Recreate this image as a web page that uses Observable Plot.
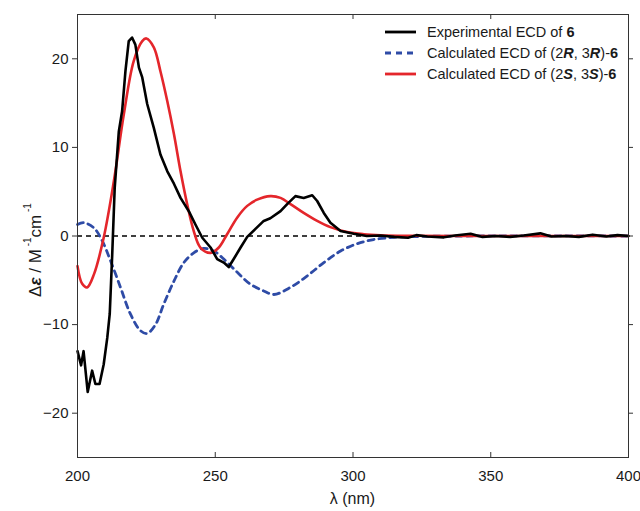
<!DOCTYPE html>
<html><head><meta charset="utf-8">
<script src="https://cdn.jsdelivr.net/npm/d3@7"></script>
<script src="https://cdn.jsdelivr.net/npm/@observablehq/plot@0.6"></script>
<style>body{margin:0;background:#fff;font-family:"Liberation Sans",Arial,sans-serif}</style>
</head><body><div id="chart"></div>
<script>
// Experimental ECD of 6
const expWl  = [200,201.3,202.2,203.7,205.3,206.5,208,209.5,210.8,211.7,212.6,213.5,215,216.2,217.4,218.6,219.8,221,222.3,223.5,225.3,227.7,230.1,232.6,235,237.4,240.4,242.8,245.3,248.3,250.7,253.1,254.9,256.7,259.2,261.6,264.6,267.6,270,273.7,276.1,279.1,282.1,285.2,287,289.4,291.8,295.5,300.3,305,310,315,320,323,327,333,337,342.7,347,352,357,362,368,372,377,382,387,392,396,400];
const expVal = [-13.0,-14.6,-13.0,-17.6,-15.2,-16.7,-16.7,-14.5,-11.5,-8.8,-2.1,5.4,11.8,14.1,18.6,22.0,22.4,21.6,19.0,17.9,14.9,12.2,9.2,7.3,5.9,4.3,2.8,1.3,-0.2,-1.3,-2.6,-3.0,-3.5,-2.6,-1.3,-0.1,0.8,1.7,2.0,2.8,3.6,4.5,4.3,4.6,3.95,2.6,1.5,0.56,0.26,0.0,0.05,-0.1,-0.2,0.1,-0.05,-0.15,0.05,0.25,-0.1,0.0,-0.1,0.05,0.3,-0.05,0.0,-0.1,0.15,-0.05,0.1,0.0];
// Calculated ECD of (2R,3R)-6
const calcRWl  = [200,202.3,206,209,212,215.6,219.2,222.9,225.3,228.3,231.3,235,238.6,242.2,245.8,249.5,253.1,258,262.8,267.6,271.3,277.3,283.4,289.4,295.5,301.5,307.5,315,325,340,400];
const calcRVal = [1.3,1.5,0.9,-0.56,-2.8,-5.8,-8.8,-10.7,-11.0,-10.0,-7.7,-5.1,-3.0,-1.9,-1.4,-1.7,-2.6,-4.1,-5.45,-6.2,-6.6,-5.8,-4.5,-3.0,-1.7,-0.87,-0.4,-0.15,-0.05,0,0];
// Calculated ECD of (2S,3S)-6
const calcSWl  = [200,201.7,203.5,206,209.5,213.2,216.8,220.4,223.5,225,227.7,230.1,232.6,235,237.4,239.8,242.2,244.6,248.3,251.3,254.3,258,261.6,265.2,270,273.7,277.3,282.1,287,291.8,297.9,303.9,310,320,340,400];
const calcSVal = [-3.4,-5.4,-5.8,-4.3,-0.2,6.2,13.7,19.75,22.0,22.3,21.3,18.6,15.2,11.5,7.3,3.6,0.56,-1.3,-1.9,-1.3,0.2,2.1,3.4,4.1,4.5,4.3,3.6,2.6,1.7,1.0,0.45,0.2,0.08,0.02,0,0];

const xTicks = [200,250,300,350,400];
const yTicks = [-20,-10,0,10,20];
const xDomain = [200,400];
const yDomain = [-25,25];

const toRows = (w, v) => w.map((x, i) => ({x, y: v[i]}));
const expData = toRows(expWl, expVal);
const rData = toRows(calcRWl, calcRVal);
const sData = toRows(calcSWl, calcSVal);

const W = 640, H = 511, mL = 77, mR = 12, mT = 14, mB = 54;
const inner = H - mT - mB;

const plot = Plot.plot({
  width: W, height: H,
  marginLeft: mL, marginRight: mR, marginTop: mT, marginBottom: mB,
  style: {fontFamily: "'Liberation Sans', Arial, sans-serif", fontSize: "15px", color: "#1a1a1a", background: "white"},
  x: {domain: xDomain, label: null},
  y: {domain: yDomain, label: null},
  marks: [
    Plot.ruleY([0], {stroke: "black", strokeWidth: 1.6, strokeDasharray: "5,4"}),
    Plot.line(rData, {x: "x", y: "y", stroke: "#2e4ba6", strokeWidth: 2.8, strokeDasharray: "6,5", curve: "catmull-rom"}),
    Plot.line(sData, {x: "x", y: "y", stroke: "#e4262b", strokeWidth: 2.6, curve: "catmull-rom"}),
    Plot.line(expData, {x: "x", y: "y", stroke: "black", strokeWidth: 2.6}),
    Plot.frame({stroke: "#333", strokeWidth: 1}),
    Plot.tickX(xTicks, {x: d => d, stroke: "#333", insetTop: inner - 5}),
    Plot.tickX(xTicks, {x: d => d, stroke: "#333", insetBottom: inner - 5}),
    Plot.axisX(xTicks, {anchor: "bottom", tickSize: 0, tickPadding: 13, label: null}),
    Plot.axisY(yTicks, {anchor: "left", tickSize: 5, tickPadding: 4, label: null, stroke: "#333"}),
    Plot.axisY(yTicks, {anchor: "right", tickSize: 4, text: null, label: null, stroke: "#333"})
  ]
});
document.getElementById("chart").appendChild(plot);

const svg = d3.select(plot);
// x label
svg.append("text").attr("x", (mL + W - mR) / 2).attr("y", 504)
  .attr("text-anchor", "middle").attr("font-size", 16).attr("fill", "#1a1a1a").text("λ (nm)");
// y label
const yl = svg.append("text").attr("transform", "translate(41,250) rotate(-90)")
  .attr("text-anchor", "middle").attr("font-size", 17).attr("fill", "#1a1a1a");
yl.append("tspan").text("Δ");
yl.append("tspan").attr("font-weight", "bold").attr("font-style", "italic").text("ε");
yl.append("tspan").text(" / M");
yl.append("tspan").attr("font-size", 10).attr("dy", -10).text(" -1");
yl.append("tspan").attr("dy", 10).text("cm");
yl.append("tspan").attr("font-size", 10).attr("dy", -10).text(" -1");

// legend
const leg = svg.append("g").attr("font-size", 14.5).attr("fill", "#1a1a1a").attr("text-anchor", "start");
const items = [
  {stroke: "black", dash: null, parts: [["Experimental ECD of ", ""], ["6", "b"]]},
  {stroke: "#2e4ba6", dash: "6,5", parts: [["Calculated ECD of (2", ""], ["R", "bi"], [", 3", ""], ["R", "bi"], [")-", ""], ["6", "b"]]},
  {stroke: "#e4262b", dash: null, parts: [["Calculated ECD of (2", ""], ["S", "bi"], [", 3", ""], ["S", "bi"], [")-", ""], ["6", "b"]]}
];
const rowY = [32, 53, 74];
items.forEach((it, i) => {
  const y = rowY[i];
  leg.append("line").attr("x1", 385).attr("x2", 416).attr("y1", y).attr("y2", y)
    .attr("stroke", it.stroke).attr("stroke-width", 2.8).attr("stroke-dasharray", it.dash);
  const t = leg.append("text").attr("x", 427).attr("y", y + 5).attr("text-anchor", "start");
  it.parts.forEach(([s, f]) => {
    const ts = t.append("tspan").text(s);
    if (f.includes("b")) ts.attr("font-weight", "bold");
    if (f.includes("i")) ts.attr("font-style", "italic");
  });
});
</script>
</body></html>
